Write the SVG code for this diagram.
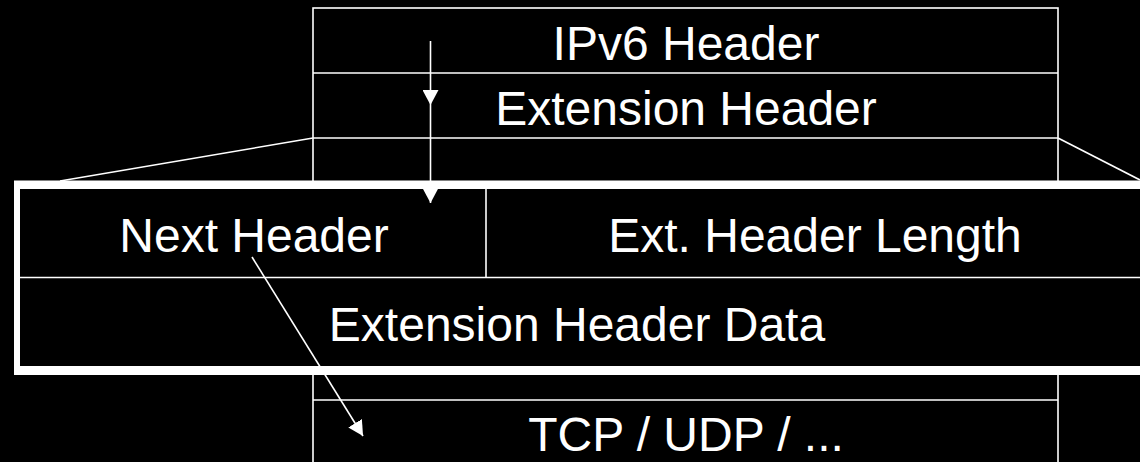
<svg xmlns="http://www.w3.org/2000/svg" width="1140" height="462" viewBox="0 0 1140 462">
<defs>
<style>
.ln{stroke:#ffffff;stroke-width:1.6;fill:none}
.tx{font-family:"Liberation Sans",Arial,sans-serif;font-size:48px;fill:#ffffff;text-anchor:middle}
</style>
<marker id="ah" markerWidth="16" markerHeight="16" viewBox="0 0 16 16" refX="15" refY="8" orient="auto" markerUnits="userSpaceOnUse">
<path d="M0,0 L15,8 L0,16 Z" fill="#ffffff"/>
</marker>
</defs>
<rect x="0" y="0" width="1140" height="462" fill="#000000"/>
<g id="stack">
<rect class="ln" x="313" y="8" width="745" height="470"/>
<line class="ln" x1="313" y1="73" x2="1058" y2="73"/>
<line class="ln" x1="313" y1="138" x2="1058" y2="138"/>
<line class="ln" x1="313" y1="400" x2="1058" y2="400"/>
</g>
<g id="ipv6-header"><text class="tx" x="686" y="60">IPv6 Header</text></g>
<g id="extension-header"><text class="tx" x="686" y="125">Extension Header</text></g>
<g id="tcp-udp"><text class="tx" x="686" y="451">TCP / UDP / ...</text></g>
<g id="zoom-lines">
<line class="ln" x1="313" y1="138" x2="60" y2="181"/>
<line class="ln" x1="1058" y1="138" x2="1140" y2="180"/>
</g>
<g id="ext-box">
<rect x="14" y="180.5" width="1140" height="194.5" fill="#ffffff"/>
<rect x="20" y="189" width="1130" height="177" fill="#000000"/>
<line class="ln" x1="486" y1="189" x2="486" y2="277"/>
<line class="ln" x1="20" y1="277.5" x2="1140" y2="277.5"/>
</g>
<g id="next-header"><text class="tx" x="254" y="252">Next Header</text></g>
<g id="ext-header-length"><text class="tx" x="815" y="252">Ext. Header Length</text></g>
<g id="ext-header-data"><text class="tx" x="577" y="341">Extension Header Data</text></g>
<g id="connectors">
<line class="ln" x1="430.5" y1="41" x2="430.5" y2="105" marker-end="url(#ah)"/>
<line class="ln" x1="430.5" y1="105" x2="430.5" y2="203" marker-end="url(#ah)"/>
<line class="ln" x1="252" y1="257" x2="363" y2="436" marker-end="url(#ah)"/>
</g>
</svg>
